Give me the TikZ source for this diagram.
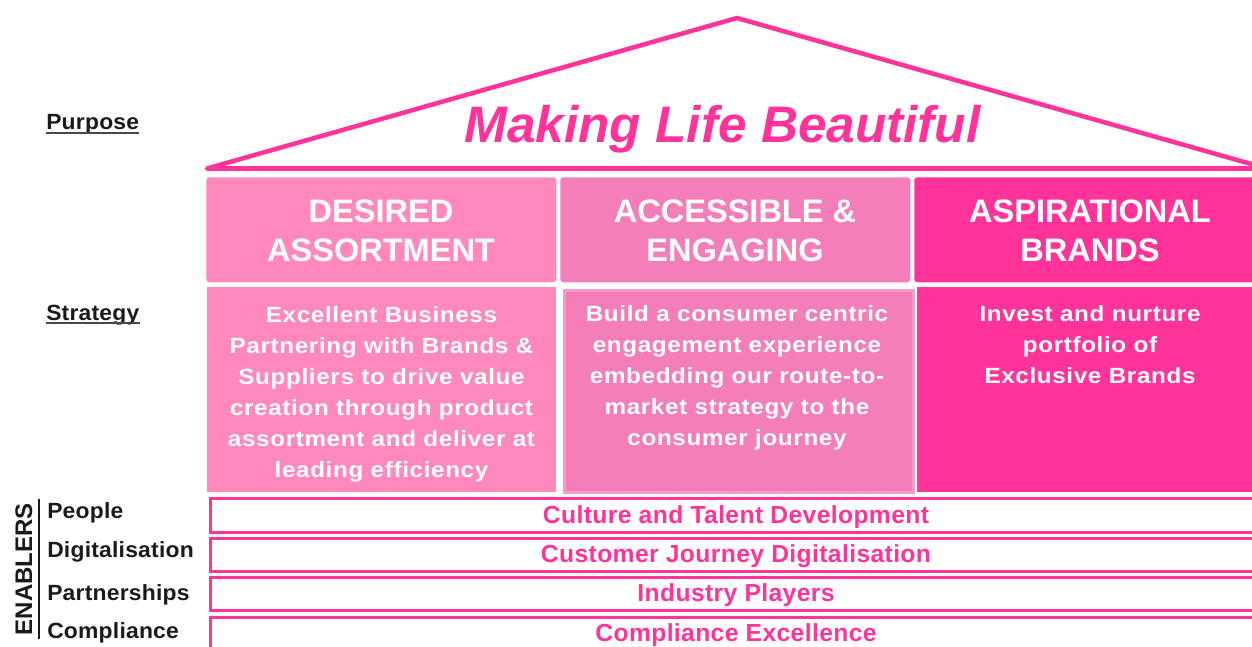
\documentclass[tikz,border=0pt]{standalone}
\usepackage{fontspec}
\usetikzlibrary{calc}
\setmainfont{Liberation Sans}
\newfontfamily\bodyfont{Liberation Sans}[FakeStretch=1.1, LetterSpace=3]
\newfontfamily\labelfont{Liberation Sans}[FakeStretch=1.04, LetterSpace=1]
\newfontfamily\barfont{Liberation Sans}[LetterSpace=1.5]

\definecolor{pinkLight}{HTML}{FF89BC}
\definecolor{pinkMid}{HTML}{F37EB9}
\definecolor{pinkMidEdge}{HTML}{F79BCA}
\definecolor{pinkHot}{HTML}{FF3399}
\definecolor{inkDark}{HTML}{1A1A1A}

\tikzset{
  panel/.style={inner sep=0pt, anchor=north west, draw=none},
  headtext/.style={anchor=north, inner sep=0pt, align=center, text=white,
    font=\fontsize{24.4pt}{29.25pt}\selectfont\bfseries},
  bodytext/.style={anchor=north, inner sep=0pt, align=center, text=white,
    font=\fontsize{16.5pt}{23.25pt}\bodyfont\bfseries},
  enablerbar/.style={inner sep=0pt, anchor=north west, draw=pinkHot,
    line width=2.25pt, fill=white},
  bartext/.style={anchor=base, inner sep=0pt, text=pinkHot,
    font=\fontsize{18.5pt}{22pt}\barfont\bfseries},
  sidelabel/.style={anchor=base west, inner sep=0pt, text=inkDark,
    font=\fontsize{16.5pt}{20pt}\labelfont\bfseries},
  underrule/.style={draw=inkDark!80, line width=1.5pt},
}

\begin{document}
\begin{tikzpicture}[x=0.75pt, y=-0.75pt]
\useasboundingbox (0,0) rectangle (1252,646);
\clip (0,0) rectangle (1252,646);

% roof with the purpose statement
\coordinate (roofL) at (207,168.5);
\coordinate (roofTop) at (737,18);
\coordinate (roofR) at (1267,168.5);
\draw[pinkHot, line width=3.4pt, line join=round] (roofL) -- (roofTop) -- (roofR) -- cycle;
\node[anchor=base, inner sep=0pt, text=pinkHot,
  font=\fontsize{38.5pt}{44pt}\selectfont\bfseries\itshape] (purpose) at (722.5,142.5) {Making Life Beautiful};

% pillar headings
\node[panel, fill=pinkLight, rounded corners=2.25pt, minimum width=262.5pt, minimum height=78.75pt] (h1) at (206,177) {};
\node[panel, fill=pinkMid, rounded corners=2.25pt, minimum width=262.5pt, minimum height=78.75pt] (h2) at (560,177) {};
\node[panel, fill=pinkHot, rounded corners=2.25pt, minimum width=264pt, minimum height=78.75pt] (h3) at (914,177) {};
\node[headtext] (h1t) at (381,200) {DESIRED\\ASSORTMENT};
\node[headtext] (h2t) at (735,200) {ACCESSIBLE \&\\ENGAGING};
\node[headtext] (h3t) at (1090,200) {ASPIRATIONAL\\BRANDS};

% pillar bodies
\node[panel, fill=pinkLight, minimum width=261.75pt, minimum height=153.75pt] (b1) at (207,287) {};
\node[panel, fill=pinkMid, draw=pinkMidEdge, line width=2.25pt, minimum width=261.75pt, minimum height=151.5pt] (b2) at (562.5,288.5) {};
\node[panel, fill=pinkHot, minimum width=261.75pt, minimum height=153.75pt] (b3) at (917,287) {};
\node[bodytext] (b1t) at (381.5,306.5) {Excellent Business\\Partnering with Brands \&\\Suppliers to drive value\\creation through product\\assortment and deliver at\\leading efficiency};
\node[bodytext] (b2t) at (737,305) {Build a consumer centric\\engagement experience\\embedding our route-to-\\market strategy to the\\consumer journey};
\node[bodytext] (b3t) at (1090,305) {Invest and nurture\\portfolio of\\Exclusive Brands};

% enabler bars
\node[enablerbar, minimum width=791.6pt, minimum height=25.5pt] (e1) at (208.5,496.5) {};
\node[enablerbar, minimum width=791.6pt, minimum height=24.75pt] (e2) at (208.5,536.5) {};
\node[enablerbar, minimum width=791.6pt, minimum height=24.75pt] (e3) at (208.5,575.5) {};
\node[enablerbar, minimum width=791.6pt, minimum height=33.75pt] (e4) at (208.5,615.5) {};
\node[bartext] (e1t) at (736,523) {Culture and Talent Development};
\node[bartext] (e2t) at (736,562) {Customer Journey Digitalisation};
\node[bartext] (e3t) at (736,601) {Industry Players};
\node[bartext] (e4t) at (736,641) {Compliance Excellence};

% side labels
\node[sidelabel] (lPurpose) at (46,129.5) {Purpose};
\node[sidelabel] (lStrategy) at (46,320) {Strategy};
\draw[underrule] ($(lPurpose.base west)+(0,3.8)$) -- ($(lPurpose.base east)+(0,3.8)$);
\draw[underrule] ($(lStrategy.base west)+(0,2.5)$) -- ($(lStrategy.base east)+(0,2.5)$);

\node[sidelabel] (lPeople) at (47,518.5) {People};
\node[sidelabel] (lDigital) at (47,557) {Digitalisation};
\node[sidelabel] (lPartner) at (47,600) {Partnerships};
\node[sidelabel] (lCompliance) at (47,638.5) {Compliance};

% enablers bracket
\coordinate (bracketTop) at (38.5,499);
\coordinate (bracketBot) at (38.5,639);
\draw[inkDark, line width=1.5pt] (bracketTop) -- (bracketBot);
\node[anchor=base, inner sep=0pt, rotate=90, text=inkDark,
  font=\fontsize{18pt}{20pt}\selectfont\bfseries] (enablers) at (32,569) {ENABLERS};
\end{tikzpicture}
\end{document}
